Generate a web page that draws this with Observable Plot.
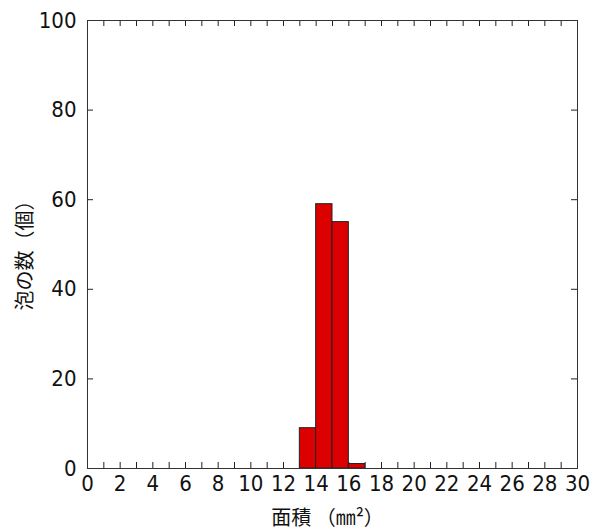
<!DOCTYPE html>
<html>
<head>
<meta charset="utf-8">
<script src="https://cdn.jsdelivr.net/npm/d3@7"></script>
<script src="https://cdn.jsdelivr.net/npm/@observablehq/plot@0.6"></script>
<style>
  html, body { margin: 0; padding: 0; background: #fff; }
  #chart svg { display: block; }
</style>
</head>
<body>
<div id="chart"></div>
<script>
// Histogram bins (area in mm², bin width 1) and counts
const binStart = [13, 14, 15, 16];
const binEnd   = [14, 15, 16, 17];
const counts   = [9, 59, 55, 1];

const xTickLabels = [0, 2, 4, 6, 8, 10, 12, 14, 16, 18, 20, 22, 24, 26, 28, 30];
const xMinorTicks = d3.range(1, 30);
const yTickLabels = [0, 20, 40, 60, 80, 100];
const yMinorTicks = [20, 40, 60, 80];

const xLabel = "面積 （㎜²）";
const yLabel = "泡の数（個）";

const bins = binStart.map((s, i) => ({x1: s, x2: binEnd[i], y: counts[i]}));

const W = 594, H = 532;
const mL = 87, mR = 17, mT = 20, mB = 64;
const innerH = H - mT - mB;
const innerW = W - mL - mR;
const tk = 6;

const numFont = "'DejaVu Sans Condensed', 'DejaVu Sans', sans-serif";
const jpFont = "'Noto Sans CJK JP', sans-serif";

const chart = Plot.plot({
  width: W,
  height: H,
  marginLeft: mL,
  marginRight: mR,
  marginTop: mT,
  marginBottom: mB,
  style: {fontFamily: numFont, fontSize: "22px", color: "#111", background: "#fff"},
  x: {domain: [0, 30]},
  y: {domain: [0, 100]},
  marks: [
    // inward ticks
    Plot.tickX(xMinorTicks, {x: d => d, insetTop: innerH - tk, stroke: "#222"}),
    Plot.tickX(xMinorTicks, {x: d => d, insetBottom: innerH - tk, stroke: "#222"}),
    Plot.tickY(yMinorTicks, {y: d => d, insetRight: innerW - tk, stroke: "#222"}),
    Plot.tickY(yMinorTicks, {y: d => d, insetLeft: innerW - tk, stroke: "#222"}),
    Plot.rectY(bins, {x1: "x1", x2: "x2", y: "y", fill: "#dd0000", stroke: "#222", strokeWidth: 1}),
    Plot.frame({stroke: "#333", strokeWidth: 1}),
    Plot.axisX(xTickLabels, {tickSize: 0, tickPadding: 7, fontSize: 22, tickFormat: d => String(d), label: null}),
    Plot.axisY(yTickLabels, {tickSize: 0, tickPadding: 11, fontSize: 22, tickFormat: d => String(d), label: null}),
    Plot.text([xLabel], {frameAnchor: "bottom", textAnchor: "middle", lineAnchor: "middle", dx: -5, dy: 50, fontSize: 20, fontFamily: jpFont, text: d => d}),
    Plot.text([yLabel], {frameAnchor: "left", textAnchor: "middle", lineAnchor: "middle", dx: -62, dy: 6, rotate: -90, fontSize: 20, fontFamily: jpFont, text: d => d})
  ]
});

document.getElementById("chart").appendChild(chart);
</script>
</body>
</html>
